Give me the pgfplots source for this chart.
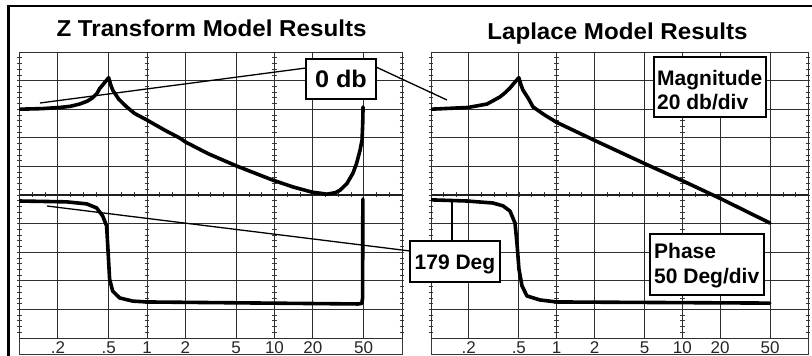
\documentclass[border=0pt]{standalone}
\usepackage{pgfplots}
\pgfplotsset{compat=1.18}
\usepackage{pgfplotstable}
\usepackage{fontspec}
\setmainfont{Liberation Sans}
\newfontfamily\titlefont[FakeStretch=1.05]{Liberation Sans}

% Left panel (Z transform), y in screen divisions (0..10)
\pgfplotstableread{
f d
0.1 8.0
0.15 8.02
0.206 8.06
0.25 8.1
0.296 8.18
0.34 8.28
0.375 8.4
0.405 8.55
0.425 8.72
0.45 8.85
0.475 8.98
0.5 9.1
0.52 8.85
0.538 8.67
0.6 8.35
0.693 8.08
0.8 7.85
1.0 7.62
1.4 7.25
1.81 6.99
2.01 6.85
3.0 6.45
5.07 6.01
9.7 5.52
14 5.28
19.7 5.1
25.8 5.03
30 5.08
32.7 5.17
37 5.4
41.3 5.77
44 6.1
46.9 6.57
48.6 6.92
49.2 7.5
49.5 8.08
}\zmag
\pgfplotstableread{
f d
0.1 4.79
0.234 4.76
0.336 4.69
0.402 4.55
0.449 4.27
0.482 3.92
0.491 3.32
0.509 2.06
0.538 1.64
0.611 1.40
0.773 1.29
1.0 1.26
8.7 1.22
45.2 1.19
48.4 1.21
49.1 1.4
49.3 4.86
}\zph
% Right panel (Laplace)
\pgfplotstableread{
f d
0.1 8.0
0.197 8.06
0.279 8.18
0.354 8.43
0.39 8.58
0.425 8.74
0.46 8.92
0.5 9.1
0.52 8.85
0.539 8.67
0.6 8.35
0.648 8.08
0.8 7.8
0.99 7.55
1.98 6.92
5.0 6.1
10 5.5
20 4.88
49.8 4.02
}\lmag
\pgfplotstableread{
f d
0.1 4.83
0.193 4.79
0.311 4.72
0.374 4.62
0.425 4.44
0.466 4.02
0.483 3.32
0.501 2.41
0.530 1.82
0.58 1.47
0.736 1.33
1.0 1.26
49.6 1.22
}\lph

\begin{document}
\begin{tikzpicture}
\useasboundingbox (0,0) rectangle (812bp,356bp);

% screen graticule (drawn under the traces)
\begin{scope}[shift={(0,356bp)}, x=1bp, y=-1bp]
  \foreach \gx in {57.9,108.6,147,185.4,236.1,274.5,312.9,363.6,
                   468.8,518.8,556.7,594.5,644.5,682.3,720.2,770.2}{
    \draw[black!82, line width=0.9bp] (\gx,52) -- (\gx,338);
  }
  \foreach \k in {1,...,9}{
    \draw[black!82, line width=0.9bp] (19.5,{52+\k*28.6}) -- (402,{52+\k*28.6});
    \draw[black!82, line width=0.9bp] (431,{52+\k*28.6}) -- (808,{52+\k*28.6});
  }
  % minor ticks on vertical lines
  \foreach \xx in {19.5,147,274.5,402,431,556.7,682.3,808}{
    \foreach \k in {1,...,49}{
      \draw[black!78, line width=0.7bp] ({\xx-2.3},{52+\k*5.72}) -- ({\xx+2.3},{52+\k*5.72});
    }
  }
  % minor ticks on center line
  \foreach \xa/\dx in {19.5/12.75, 431/12.57}{
    \foreach \k in {1,...,29}{
      \draw[black!78, line width=0.7bp] ({\xa+\k*\dx},192.5) -- ({\xa+\k*\dx},197.5);
    }
  }
  \draw[black!88, line width=1.2bp] (19.5,195) -- (402,195);
  \draw[black!88, line width=1.2bp] (431,195) -- (808,195);
  % label strips
  \draw[black!78, line width=0.8bp] (19.5,338) rectangle (402,354.5);
  \draw[black!78, line width=0.8bp] (431,338) rectangle (808,354.5);
\end{scope}

\begin{semilogxaxis}[at={(19.5bp,18bp)}, anchor=south west, width=382.5bp,
    scale only axis, height=286bp,
    xmin=0.1, xmax=100, ymin=0, ymax=10,
    xtick={0.2,0.5,1,2,5,10,20,50},
    xticklabels={.2,.5,1,2,5,10,20,50},
    ytick=\empty,
    axis line style={black!82, line width=0.9bp},
    tick style={draw=none}, minor tick num=0,
    xticklabel style={font=\fontsize{17bp}{17bp}\selectfont, anchor=base, yshift=-15bp, text=black!85}]
  \addplot[black, line width=3.6bp, line join=round, line cap=round] table[x=f,y=d] {\zmag};
  \addplot[black, line width=3.6bp, line join=round, line cap=round] table[x=f,y=d] {\zph};
\end{semilogxaxis}

\begin{semilogxaxis}[at={(431bp,18bp)}, anchor=south west, width=377bp,
    scale only axis, height=286bp,
    xmin=0.1, xmax=100, ymin=0, ymax=10,
    xtick={0.2,0.5,1,2,5,10,20,50},
    xticklabels={.2,.5,1,2,5,10,20,50},
    ytick=\empty,
    axis line style={black!82, line width=0.9bp},
    tick style={draw=none}, minor tick num=0,
    xticklabel style={font=\fontsize{17bp}{17bp}\selectfont, anchor=base, yshift=-15bp, text=black!85}]
  \addplot[black, line width=3.6bp, line join=round, line cap=round] table[x=f,y=d] {\lmag};
  \addplot[black, line width=3.6bp, line join=round, line cap=round] table[x=f,y=d] {\lph};
\end{semilogxaxis}

\begin{scope}[shift={(0,356bp)}, x=1bp, y=-1bp]
  % outer frame
  \draw[line width=2.5bp] (8.5,356) -- (8.5,6) -- (812,6);
  % titles
  \node[anchor=base, inner sep=0] at (211.5,37) {\titlefont\bfseries\fontsize{23bp}{25bp}\selectfont Z Transform Model Results};
  \node[anchor=base, inner sep=0] at (617.5,40) {\titlefont\bfseries\fontsize{23bp}{25bp}\selectfont Laplace Model Results};
  % leader lines
  \draw[line width=1.3bp] (40,103) -- (306,68);
  \draw[line width=1.3bp] (376,67) -- (447,100);
  \draw[line width=1.3bp] (47,206) -- (410,251);
  \draw[line width=1.3bp] (452,241) -- (452,201);
  % boxes
  \draw[line width=1.8bp, fill=white] (306,59) rectangle (376,99);
  \node[anchor=base, inner sep=0] at (341,88) {\titlefont\bfseries\fontsize{24bp}{26bp}\selectfont 0 db};
  \draw[line width=1.8bp, fill=white] (654,57) rectangle (766,117);
  \node[anchor=base west, inner sep=0] at (657,86) {\bfseries\fontsize{21bp}{24bp}\selectfont Magnitude};
  \node[anchor=base west, inner sep=0] at (657,110) {\bfseries\fontsize{21bp}{24bp}\selectfont 20 db/div};
  \draw[line width=1.8bp, fill=white] (410,241) rectangle (500,282);
  \node[anchor=base, inner sep=0] at (455,270) {\bfseries\fontsize{21bp}{24bp}\selectfont 179 Deg};
  \draw[line width=1.8bp, fill=white] (650,234) rectangle (764,295);
  \node[anchor=base west, inner sep=0] at (654,259) {\bfseries\fontsize{21bp}{24bp}\selectfont Phase};
  \node[anchor=base west, inner sep=0] at (654,284) {\bfseries\fontsize{21bp}{24bp}\selectfont 50 Deg/div};
\end{scope}
\end{tikzpicture}
\end{document}
